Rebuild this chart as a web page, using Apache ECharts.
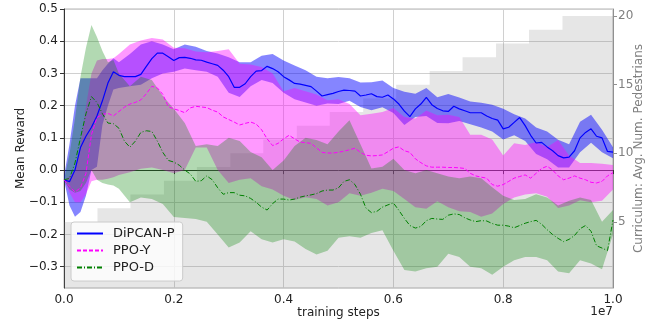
<!DOCTYPE html>
<html>
<head>
<meta charset="utf-8">
<script src="https://cdn.jsdelivr.net/npm/echarts@6/dist/echarts.min.js"></script>
<style>
  html, body { margin: 0; padding: 0; background: #fff; }
  #main { width: 667px; height: 328px; }
</style>
</head>
<body>
<div id="main"></div>
<script>
// training steps (x 1e7) where each line value was read
const lineX = [0, 0.01, 0.02, 0.03, 0.04, 0.05, 0.06, 0.07, 0.08, 0.09,
  0.1, 0.11, 0.12, 0.13, 0.14, 0.15, 0.16, 0.17, 0.18, 0.19,
  0.2, 0.21, 0.22, 0.23, 0.24, 0.25, 0.26, 0.27, 0.28, 0.29,
  0.3, 0.31, 0.32, 0.33, 0.34, 0.35, 0.36, 0.37, 0.38, 0.39,
  0.4, 0.41, 0.42, 0.43, 0.44, 0.45, 0.46, 0.47, 0.48, 0.49,
  0.5, 0.51, 0.52, 0.53, 0.54, 0.55, 0.56, 0.57, 0.58, 0.59,
  0.6, 0.61, 0.62, 0.63, 0.64, 0.65, 0.66, 0.67, 0.68, 0.69,
  0.7, 0.71, 0.72, 0.73, 0.74, 0.75, 0.76, 0.77, 0.78, 0.79,
  0.8, 0.81, 0.82, 0.83, 0.84, 0.85, 0.86, 0.87, 0.88, 0.89,
  0.9, 0.91, 0.92, 0.93, 0.94, 0.95, 0.96, 0.97, 0.98, 0.99, 1.0];

const dipcanMean = [-0.03, -0.036, 0.0, 0.07, 0.105, 0.133, 0.168, 0.215, 0.27, 0.305,
  0.294, 0.29, 0.29, 0.29, 0.297, 0.322, 0.346, 0.363, 0.363, 0.352,
  0.34, 0.349, 0.35, 0.347, 0.342, 0.341, 0.335, 0.33, 0.325, 0.31,
  0.29, 0.257, 0.257, 0.268, 0.29, 0.307, 0.309, 0.322, 0.315, 0.305,
  0.29, 0.28, 0.269, 0.267, 0.263, 0.259, 0.245, 0.23, 0.234, 0.238,
  0.244, 0.248, 0.247, 0.245, 0.23, 0.233, 0.237, 0.228, 0.226, 0.233,
  0.221, 0.205, 0.183, 0.166, 0.19, 0.205, 0.226, 0.203, 0.191, 0.184,
  0.182, 0.198, 0.19, 0.184, 0.178, 0.178, 0.178, 0.168, 0.16, 0.155,
  0.128, 0.133, 0.148, 0.163, 0.138, 0.108, 0.084, 0.086, 0.072, 0.06,
  0.045, 0.038, 0.04, 0.06, 0.1, 0.117, 0.128, 0.105, 0.1, 0.058, 0.056];

const ppoYMean = [-0.03, -0.05, -0.068, -0.055, -0.01, 0.11, 0.163, 0.173, 0.176, 0.168,
  0.182, 0.195, 0.205, 0.21, 0.218, 0.237, 0.26, 0.255, 0.235, 0.197,
  0.19, 0.185, 0.178, 0.193, 0.198, 0.196, 0.194, 0.186, 0.18, 0.165,
  0.157, 0.149, 0.14, 0.145, 0.149, 0.143, 0.125, 0.097, 0.076, 0.083,
  0.097, 0.108, 0.097, 0.087, 0.085, 0.083, 0.069, 0.055, 0.053, 0.053,
  0.055, 0.059, 0.063, 0.068, 0.055, 0.046, 0.044, 0.045, 0.047, 0.057,
  0.068, 0.072, 0.06, 0.055, 0.035, 0.023, 0.013, 0.009, 0.009, 0.009,
  0.008, 0.008, 0.007, 0.005, -0.01, -0.018, -0.022, -0.025, -0.045, -0.05,
  -0.045, -0.035, -0.025, -0.02, -0.015, -0.025, -0.01, 0.005, 0.012, 0.0,
  -0.018, -0.03, -0.025, -0.018, -0.025, -0.03, -0.038, -0.04, -0.035, -0.018, -0.008];

const ppoDMean = [-0.03, -0.026, 0.022, 0.1, 0.175, 0.228, 0.21, 0.175, 0.146, 0.144,
  0.13, 0.09, 0.071, 0.09, 0.117, 0.122, 0.12, 0.09, 0.055, 0.03,
  0.025, 0.015, 0.0, -0.012, -0.035, -0.033, -0.018, -0.03, -0.055, -0.075,
  -0.07, -0.07, -0.078, -0.08, -0.088, -0.1, -0.115, -0.124, -0.104, -0.09,
  -0.09, -0.093, -0.09, -0.084, -0.08, -0.077, -0.073, -0.065, -0.062, -0.062,
  -0.055, -0.035, -0.03, -0.045, -0.075, -0.118, -0.132, -0.128, -0.115, -0.108,
  -0.102, -0.125, -0.15, -0.172, -0.18, -0.175, -0.157, -0.15, -0.152, -0.153,
  -0.14, -0.136, -0.138, -0.148, -0.155, -0.16, -0.157, -0.158, -0.166, -0.171,
  -0.171, -0.174, -0.179, -0.172, -0.165, -0.16, -0.156, -0.168, -0.185, -0.2,
  -0.212, -0.222, -0.215, -0.203, -0.182, -0.172, -0.19, -0.235, -0.242, -0.25, -0.155];

// positions where the shaded bands were read
const bandX = [0, 0.01, 0.02, 0.03, 0.04, 0.05, 0.06, 0.07, 0.08, 0.09, 0.1,
  0.12, 0.14, 0.16, 0.18, 0.2, 0.22, 0.24, 0.26, 0.28, 0.3,
  0.32, 0.34, 0.36, 0.38, 0.4, 0.42, 0.44, 0.46, 0.48, 0.5,
  0.52, 0.54, 0.56, 0.58, 0.6, 0.62, 0.64, 0.66, 0.68, 0.7,
  0.72, 0.74, 0.76, 0.78, 0.8, 0.82, 0.84, 0.86, 0.88, 0.9,
  0.92, 0.94, 0.96, 0.98, 1.0];

const dipcanHigh = [-0.02, 0.08, 0.2, 0.285, 0.285, 0.285, 0.285, 0.31, 0.33, 0.347, 0.335,
  0.36, 0.39, 0.4, 0.39, 0.375, 0.39, 0.383, 0.37, 0.362, 0.35,
  0.335, 0.335, 0.355, 0.36, 0.34, 0.325, 0.31, 0.29, 0.285, 0.289,
  0.285, 0.272, 0.273, 0.278, 0.255, 0.243, 0.237, 0.255, 0.226, 0.236,
  0.225, 0.213, 0.209, 0.203, 0.19, 0.173, 0.16, 0.132, 0.12, 0.094,
  0.08, 0.15, 0.172, 0.125, 0.071];
const dipcanLow = [-0.03, -0.11, -0.145, -0.13, -0.08, 0.0, 0.01, 0.14, 0.2, 0.25, 0.255,
  0.26, 0.265, 0.285, 0.3, 0.305, 0.315, 0.31, 0.305, 0.29, 0.24,
  0.227, 0.26, 0.28, 0.27, 0.24, 0.22, 0.21, 0.2, 0.207, 0.205,
  0.215, 0.196, 0.186, 0.195, 0.177, 0.14, 0.165, 0.168, 0.146, 0.145,
  0.152, 0.142, 0.132, 0.12, 0.095, 0.108, 0.09, 0.05, 0.034, 0.008,
  0.008, 0.055, 0.085, 0.055, 0.037];

const ppoYHigh = [-0.03, -0.02, 0.0, 0.08, 0.2, 0.3, 0.34, 0.345, 0.345, 0.347, 0.36,
  0.39, 0.402, 0.41, 0.405, 0.38, 0.378, 0.368, 0.366, 0.37, 0.375,
  0.33, 0.328, 0.32, 0.3, 0.245, 0.255, 0.245, 0.235, 0.217, 0.22,
  0.205, 0.17, 0.175, 0.18, 0.193, 0.165, 0.16, 0.185, 0.17, 0.172,
  0.165, 0.11, 0.11, 0.095, 0.045, 0.083, 0.078, 0.087, 0.072, 0.093,
  0.045, 0.022, 0.022, 0.02, 0.016];
const ppoYLow = [-0.03, -0.07, -0.1, -0.1, -0.075, -0.035, -0.03, -0.03, -0.027, -0.022, -0.015,
  -0.007, 0.004, 0.008, 0.0, -0.01, 0.0, 0.07, 0.07, 0.0, -0.04,
  -0.03, -0.025, -0.05, -0.06, -0.08, -0.093, -0.084, -0.09, -0.11, -0.1,
  -0.072, -0.08, -0.07, -0.058, -0.065, -0.09, -0.115, -0.12, -0.097, -0.115,
  -0.128, -0.13, -0.145, -0.135, -0.105, -0.085, -0.076, -0.072, -0.083, -0.118,
  -0.11, -0.094, -0.1, -0.095, -0.06];

const ppoDHigh = [-0.03, 0.05, 0.16, 0.29, 0.38, 0.45, 0.413, 0.37, 0.335, 0.342, 0.3,
  0.26, 0.29, 0.28, 0.23, 0.19, 0.146, 0.075, 0.08, 0.075, 0.1,
  0.09, 0.056, 0.04, 0.0, 0.03, 0.075, 0.1, 0.093, 0.08, 0.12,
  0.155, 0.08, 0.005, 0.01, 0.035, 0.0, -0.01, 0.0, -0.01, -0.02,
  -0.025, -0.02, -0.025, -0.053, -0.08, -0.093, -0.09, -0.075, -0.085, -0.11,
  -0.095, -0.085, -0.093, -0.16, -0.124];
const ppoDLow = [-0.03, -0.06, -0.07, -0.065, -0.04, 0.0, -0.03, -0.04, -0.045, -0.048, -0.058,
  -0.1, -0.085, -0.09, -0.105, -0.146, -0.149, -0.152, -0.16, -0.2, -0.24,
  -0.225, -0.19, -0.215, -0.225, -0.215, -0.222, -0.245, -0.262, -0.25, -0.21,
  -0.205, -0.21, -0.195, -0.187, -0.25, -0.31, -0.315, -0.305, -0.3, -0.26,
  -0.27, -0.3, -0.305, -0.325, -0.3, -0.28, -0.27, -0.27, -0.28, -0.315,
  -0.32, -0.28, -0.29, -0.308, -0.2];

// curriculum staircase (avg. number of pedestrians)
const stepX = [0, 0.061, 0.121, 0.182, 0.242, 0.303, 0.363, 0.424, 0.484,
  0.545, 0.605, 0.666, 0.726, 0.787, 0.847, 0.908, 1.0];
const stepPed = [5, 6, 7, 8, 9, 10, 11, 12, 13, 14, 15, 16, 17, 18, 19, 20, 20];

const FONT = "DejaVu Sans";
const fmt = v => (v < 0 ? "\u2212" : "") + Math.abs(v).toFixed(1);

function pairs(xs, ys) {
  return xs.map((x, i) => [x, ys[i]]);
}

function band(lo, hi, color) {
  return {
    type: "custom",
    silent: true,
    z: 3,
    data: bandX.map((x, i) => [x, lo[i], hi[i]]),
    encode: { x: 0, y: [1, 2] },
    renderItem: function (params, api) {
      if (params.dataIndex !== 0) return null;
      const top = bandX.map((x, i) => api.coord([x, hi[i]]));
      const bot = bandX.map((x, i) => api.coord([x, lo[i]])).reverse();
      return {
        type: "polygon",
        shape: { points: top.concat(bot) },
        style: { fill: color }
      };
    }
  };
}

const chart = echarts.init(document.getElementById("main"));

chart.setOption({
  animation: false,
  textStyle: { fontFamily: FONT },
  grid: { left: 64, right: 54, top: 9, bottom: 40, show: true, borderColor: "#b5b5b5", borderWidth: 1 },
  legend: {
    data: ["DiPCAN-P", "PPO-Y", "PPO-D"],
    orient: "vertical",
    left: 71,
    top: 222,
    padding: [5, 8, 7, 5],
    itemWidth: 26,
    itemHeight: 14,
    itemGap: 4,
    backgroundColor: "rgba(255,255,255,0.8)",
    borderColor: "#cccccc",
    borderWidth: 1,
    borderRadius: 3,
    itemStyle: { opacity: 0 },
    textStyle: { fontFamily: FONT, fontSize: 13, color: "#222", padding: [0, 0, 0, 5] }
  },
  graphic: [{
    type: "text",
    right: 54,
    top: 306,
    style: { text: "1e7", font: "12px " + FONT, fill: "#222" }
  }],
  xAxis: {
    type: "value",
    min: 0,
    max: 1,
    interval: 0.2,
    name: "training steps",
    nameLocation: "middle",
    nameGap: 19,
    nameMoveOverlap: false,
    nameTextStyle: { fontFamily: FONT, fontSize: 12, color: "#222" },
    axisLine: { lineStyle: { color: "#333" } },
    axisTick: { length: 4, lineStyle: { color: "#333" } },
    axisLabel: { fontFamily: FONT, fontSize: 12, color: "#222", margin: 6, formatter: v => v.toFixed(1) },
    splitLine: { show: true, lineStyle: { color: "#d0d0d0" } }
  },
  yAxis: [{
    type: "value",
    min: -0.366,
    max: 0.5,
    splitNumber: 9,
    name: "Mean Reward",
    nameLocation: "middle",
    nameRotate: 90,
    nameGap: 37,
    nameMoveOverlap: false,
    nameTextStyle: { fontFamily: FONT, fontSize: 12, color: "#222" },
    axisLine: { show: true, lineStyle: { color: "#333" } },
    axisTick: { show: true, length: 4, lineStyle: { color: "#333" } },
    axisLabel: { fontFamily: FONT, fontSize: 12, color: "#222", margin: 6, showMinLabel: false, formatter: fmt },
    splitLine: { show: true, lineStyle: { color: "#d0d0d0" } }
  }, {
    type: "value",
    position: "right",
    min: 0.19,
    max: 20.51,
    splitNumber: 4,
    name: "Curriculum: Avg. Num. Pedestrians",
    nameLocation: "middle",
    nameRotate: 90,
    nameGap: 20,
    nameMoveOverlap: false,
    nameTextStyle: { fontFamily: FONT, fontSize: 12, color: "#808080" },
    axisLine: { show: true, lineStyle: { color: "#909090" } },
    axisTick: { show: true, length: 4, lineStyle: { color: "#909090" } },
    axisLabel: { fontFamily: FONT, fontSize: 12, color: "#808080", margin: 5, showMinLabel: false, showMaxLabel: false },
    splitLine: { show: false }
  }],
  series: [
    {
      type: "line",
      yAxisIndex: 1,
      step: "end",
      symbol: "none",
      silent: true,
      z: 1,
      lineStyle: { width: 0 },
      areaStyle: { color: "rgba(128,128,128,0.28)", origin: "start" },
      data: pairs(stepX, stepPed)
    },
    band(dipcanLow, dipcanHigh, "rgba(0,0,255,0.48)"),
    band(ppoYLow, ppoYHigh, "rgba(255,0,255,0.4)"),
    band(ppoDLow, ppoDHigh, "rgba(0,128,0,0.3)"),
    {
      name: "DiPCAN-P",
      type: "line",
      symbol: "none",
      z: 5,
      color: "#0000ff",
      lineStyle: { width: 1.2, color: "#0000ff" },
      data: pairs(lineX, dipcanMean)
    },
    {
      name: "PPO-Y",
      type: "line",
      symbol: "none",
      z: 5,
      color: "#ff00ff",
      lineStyle: { width: 1, color: "#ff00ff", type: [4, 2] },
      data: pairs(lineX, ppoYMean)
    },
    {
      name: "PPO-D",
      type: "line",
      symbol: "none",
      z: 5,
      color: "#008000",
      lineStyle: { width: 1, color: "#008000", type: [5, 2, 1, 2] },
      data: pairs(lineX, ppoDMean)
    }
  ]
});
</script>
</body>
</html>
